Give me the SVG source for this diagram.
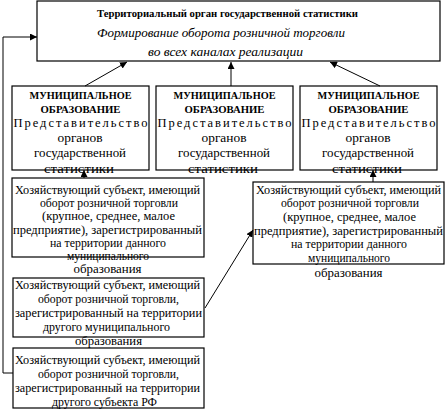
<svg xmlns="http://www.w3.org/2000/svg" width="446" height="410" viewBox="0 0 446 410" font-family="Liberation Serif">
<defs>
<marker id="ah" viewBox="0 0 10 10" refX="10" refY="5" markerWidth="7" markerHeight="7" markerUnits="userSpaceOnUse" orient="auto">
<path d="M0,0 L10,5 L0,10 z" fill="#000"/>
</marker>
</defs>
<g id="top" font-family="Liberation Serif" text-anchor="middle" fill="#000">
<rect x="37" y="1" width="403" height="60" fill="#fff" stroke="#000" stroke-width="1.2"/>
<text font-family="Liberation Serif" font-size="11" font-weight="bold" x="227.5" y="17" textLength="261" lengthAdjust="spacingAndGlyphs">Территориальный орган государственной статистики</text>
<text font-family="Liberation Serif" font-size="13.5" font-style="italic" x="221" y="37" textLength="248" lengthAdjust="spacingAndGlyphs">Формирование оборота розничной торговли</text>
<text font-family="Liberation Serif" font-size="13.5" font-style="italic" x="225.5" y="56" textLength="155" lengthAdjust="spacingAndGlyphs">во всех каналах реализации</text>
</g>
<g id="mun1" font-family="Liberation Serif" text-anchor="middle" fill="#000">
<rect x="12" y="86" width="137" height="84" fill="#fff" stroke="#000" stroke-width="1.2"/>
<text font-family="Liberation Serif" font-size="10.5" font-weight="bold" x="80.5" y="99" textLength="102" lengthAdjust="spacingAndGlyphs">МУНИЦИПАЛЬНОЕ</text>
<text font-family="Liberation Serif" font-size="10.5" font-weight="bold" x="80.5" y="113" textLength="80" lengthAdjust="spacingAndGlyphs">ОБРАЗОВАНИЕ</text>
<text font-family="Liberation Serif" font-size="12.5" x="80.5" y="127" textLength="134" lengthAdjust="spacing">Представительство</text>
<text font-family="Liberation Serif" font-size="12.5" x="80" y="142" textLength="45" lengthAdjust="spacingAndGlyphs">органов</text>
<text font-family="Liberation Serif" font-size="12.5" x="80" y="157" textLength="92" lengthAdjust="spacingAndGlyphs">государственной</text>
<text font-family="Liberation Serif" font-size="12.5" x="79" y="173" textLength="70" lengthAdjust="spacingAndGlyphs">статистики</text>
</g>
<g id="mun2" font-family="Liberation Serif" text-anchor="middle" fill="#000">
<rect x="156" y="86" width="137" height="84" fill="#fff" stroke="#000" stroke-width="1.2"/>
<text font-family="Liberation Serif" font-size="10.5" font-weight="bold" x="224.5" y="99" textLength="102" lengthAdjust="spacingAndGlyphs">МУНИЦИПАЛЬНОЕ</text>
<text font-family="Liberation Serif" font-size="10.5" font-weight="bold" x="224.5" y="113" textLength="80" lengthAdjust="spacingAndGlyphs">ОБРАЗОВАНИЕ</text>
<text font-family="Liberation Serif" font-size="12.5" x="224.5" y="127" textLength="134" lengthAdjust="spacing">Представительство</text>
<text font-family="Liberation Serif" font-size="12.5" x="224" y="142" textLength="45" lengthAdjust="spacingAndGlyphs">органов</text>
<text font-family="Liberation Serif" font-size="12.5" x="224" y="157" textLength="92" lengthAdjust="spacingAndGlyphs">государственной</text>
<text font-family="Liberation Serif" font-size="12.5" x="223" y="173" textLength="70" lengthAdjust="spacingAndGlyphs">статистики</text>
</g>
<g id="mun3" font-family="Liberation Serif" text-anchor="middle" fill="#000">
<rect x="300" y="86" width="137" height="84" fill="#fff" stroke="#000" stroke-width="1.2"/>
<text font-family="Liberation Serif" font-size="10.5" font-weight="bold" x="368.5" y="99" textLength="102" lengthAdjust="spacingAndGlyphs">МУНИЦИПАЛЬНОЕ</text>
<text font-family="Liberation Serif" font-size="10.5" font-weight="bold" x="368.5" y="113" textLength="80" lengthAdjust="spacingAndGlyphs">ОБРАЗОВАНИЕ</text>
<text font-family="Liberation Serif" font-size="12.5" x="368.5" y="127" textLength="134" lengthAdjust="spacing">Представительство</text>
<text font-family="Liberation Serif" font-size="12.5" x="368" y="142" textLength="45" lengthAdjust="spacingAndGlyphs">органов</text>
<text font-family="Liberation Serif" font-size="12.5" x="368" y="157" textLength="92" lengthAdjust="spacingAndGlyphs">государственной</text>
<text font-family="Liberation Serif" font-size="12.5" x="367" y="173" textLength="70" lengthAdjust="spacingAndGlyphs">статистики</text>
</g>
<g id="sub1" font-family="Liberation Serif" font-size="12.5" text-anchor="middle" fill="#000">
<rect x="12" y="178" width="192" height="79" fill="#fff" stroke="#000" stroke-width="1.2"/>
<text font-family="Liberation Serif" x="107.5" y="194" textLength="185" lengthAdjust="spacingAndGlyphs">Хозяйствующий субъект, имеющий</text>
<text font-family="Liberation Serif" x="109" y="207" textLength="138" lengthAdjust="spacingAndGlyphs">оборот розничной торговли</text>
<text font-family="Liberation Serif" x="108.5" y="220" textLength="133" lengthAdjust="spacingAndGlyphs">(крупное, среднее, малое</text>
<text font-family="Liberation Serif" x="107.5" y="234" textLength="189" lengthAdjust="spacingAndGlyphs">предприятие), зарегистрированный</text>
<text font-family="Liberation Serif" x="108" y="247" textLength="116" lengthAdjust="spacingAndGlyphs">на территории данного</text>
<text font-family="Liberation Serif" x="108" y="260" textLength="82" lengthAdjust="spacingAndGlyphs">муниципального</text>
<text font-family="Liberation Serif" x="107.5" y="273" textLength="68" lengthAdjust="spacingAndGlyphs">образования</text>
</g>
<g id="sub2" font-family="Liberation Serif" font-size="12.5" text-anchor="middle" fill="#000">
<rect x="253" y="182" width="191" height="82" fill="#fff" stroke="#000" stroke-width="1.2"/>
<text font-family="Liberation Serif" x="348.5" y="194" textLength="185" lengthAdjust="spacingAndGlyphs">Хозяйствующий субъект, имеющий</text>
<text font-family="Liberation Serif" x="350" y="207" textLength="138" lengthAdjust="spacingAndGlyphs">оборот розничной торговли</text>
<text font-family="Liberation Serif" x="349.5" y="221" textLength="133" lengthAdjust="spacingAndGlyphs">(крупное, среднее, малое</text>
<text font-family="Liberation Serif" x="348.5" y="235" textLength="189" lengthAdjust="spacingAndGlyphs">предприятие), зарегистрированный</text>
<text font-family="Liberation Serif" x="349" y="248" textLength="116" lengthAdjust="spacingAndGlyphs">на территории данного</text>
<text font-family="Liberation Serif" x="349" y="262" textLength="82" lengthAdjust="spacingAndGlyphs">муниципального</text>
<text font-family="Liberation Serif" x="348.5" y="277" textLength="68" lengthAdjust="spacingAndGlyphs">образования</text>
</g>
<g id="sub3" font-family="Liberation Serif" font-size="12.5" text-anchor="middle" fill="#000">
<rect x="13" y="278" width="191" height="59" fill="#fff" stroke="#000" stroke-width="1.2"/>
<text font-family="Liberation Serif" x="107.5" y="289" textLength="185" lengthAdjust="spacingAndGlyphs">Хозяйствующий субъект, имеющий</text>
<text font-family="Liberation Serif" x="108.5" y="303" textLength="141" lengthAdjust="spacingAndGlyphs">оборот розничной торговли,</text>
<text font-family="Liberation Serif" x="108.5" y="317" textLength="187" lengthAdjust="spacingAndGlyphs">зарегистрированный на территории</text>
<text font-family="Liberation Serif" x="106.5" y="331" textLength="127" lengthAdjust="spacingAndGlyphs">другого муниципального</text>
<text font-family="Liberation Serif" x="108.5" y="345" textLength="67" lengthAdjust="spacingAndGlyphs">образования</text>
</g>
<g id="sub4" font-family="Liberation Serif" font-size="12.5" text-anchor="middle" fill="#000">
<rect x="13" y="348" width="191" height="60" fill="#fff" stroke="#000" stroke-width="1.2"/>
<text font-family="Liberation Serif" x="107.5" y="364" textLength="185" lengthAdjust="spacingAndGlyphs">Хозяйствующий субъект, имеющий</text>
<text font-family="Liberation Serif" x="108.5" y="378" textLength="141" lengthAdjust="spacingAndGlyphs">оборот розничной торговли,</text>
<text font-family="Liberation Serif" x="107.5" y="392" textLength="185" lengthAdjust="spacingAndGlyphs">зарегистрированный на территории</text>
<text font-family="Liberation Serif" x="104.5" y="406" textLength="105" lengthAdjust="spacingAndGlyphs">другого субъекта РФ</text>
</g>
<g id="connectors" fill="none" stroke="#000" stroke-width="1">
<polyline points="13,373 3,373 3,37 37,37" marker-end="url(#ah)"/>
<line x1="85" y1="86" x2="127" y2="62" marker-end="url(#ah)"/>
<line x1="231" y1="86" x2="231" y2="62" marker-end="url(#ah)"/>
<line x1="380" y1="86" x2="330" y2="62" marker-end="url(#ah)"/>
<line x1="84" y1="178" x2="84" y2="170" marker-end="url(#ah)"/>
<line x1="373" y1="182" x2="373" y2="170" marker-end="url(#ah)"/>
<line x1="205" y1="308" x2="253" y2="230" marker-end="url(#ah)"/>
</g>
</svg>
